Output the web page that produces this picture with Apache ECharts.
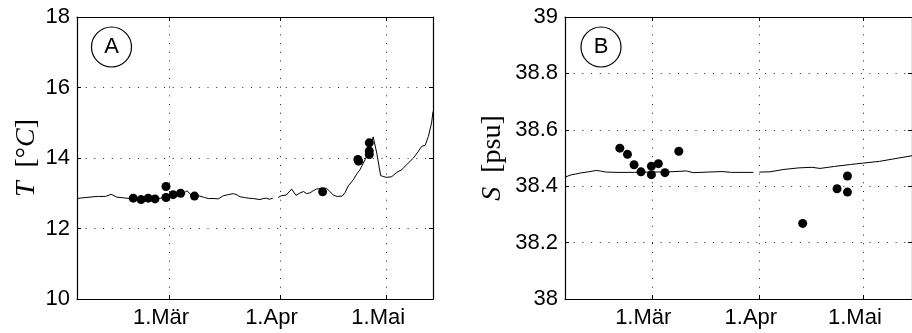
<!DOCTYPE html>
<html>
<head>
<meta charset="utf-8">
<script src="https://cdn.jsdelivr.net/npm/echarts@6/dist/echarts.min.js"></script>
<style>
  html, body { margin: 0; padding: 0; background: #fff; }
  #chart { width: 912px; height: 333px; }
</style>
</head>
<body>
<div id="chart"></div>
<script>
// Day of year (non-leap year): 1.Mär = 60, 1.Apr = 91, 1.Mai = 121
const monthTicks = [60, 91, 121];
const monthLabels = ['1.Mär', '1.Apr', '1.Mai'];

// Modelled temperature [°C]; null marks the gap in the record
const tempDays = [34, 35.5, 36.8, 38.5, 40, 42, 43.6, 45.2, 47, 49, 51, 53, 55, 57, 58.3, 60, 61.2, 63, 64.2, 64.9,
  66, 67.2, 68.5, 69.8, 70.9, 72.5, 73.7, 75.1, 76.5, 77.9, 79, 79.8, 81, 82.1, 83.5, 85.4, 86.3, 87.2, 88, 89,
  89.8,
  90.5, 91.4, 92.8, 94.3, 95.5, 96.5, 97.6, 98.5, 99.4, 100.5, 101.3, 103, 104.1, 105, 106, 107, 108.5, 109.3,
  110.2, 111.6, 112.6, 113.5, 114.9, 116.3, 117.2, 118.2, 119.3, 120.2, 121, 122.4, 123.8, 125.2, 126.6, 128.5,
  129.9, 130.8, 131.8, 132.7, 133.6, 134];
const tempModel = [12.85, 12.87, 12.88, 12.90, 12.91, 12.91, 12.97, 12.89, 12.87, 12.85, 12.84, 12.84, 12.84, 12.85,
  12.88, 12.92, 12.96, 13.00, 13.02, 13.07, 12.96, 12.95, 12.92, 12.88, 12.85, 12.85, 12.84, 12.93, 12.96, 12.99,
  12.95, 12.90, 12.88, 12.86, 12.85, 12.82, 12.85, 12.86, 12.83, 12.86,
  null,
  12.88, 12.93, 12.95, 13.12, 12.94, 13.00, 13.05, 12.99, 13.01, 13.08, 13.12, 13.14, 13.14, 13.05, 12.95, 12.91,
  12.92, 13.02, 13.21, 13.38, 13.55, 13.67, 13.95, 14.24, 14.60, 14.14, 13.50, 13.47, 13.45, 13.47, 13.59, 13.67,
  13.81, 14.00, 14.19, 14.33, 14.36, 14.61, 14.99, 15.32];

// Measured temperature [°C]
const tempObsDays = [49.8, 52, 54, 55.9, 59, 59, 61, 63.1, 67, 103, 112.9, 113.1, 116.1, 116.1, 116.1];
const tempObs = [12.86, 12.82, 12.86, 12.84, 13.19, 12.88, 12.96, 13.0, 12.92, 13.04, 13.96, 13.91, 14.43, 14.2, 14.1];

// Modelled salinity [psu]; null marks the gap in the record
const salDays = [35, 36.7, 38, 39.5, 41.8, 44.1, 45.5, 46.9, 50, 55, 60, 65, 70, 72, 76, 80.2, 83, 86, 89.3,
  90,
  91, 94.1, 97.8, 102.4, 106.2, 108.5, 112.6, 117.3, 121, 125.6, 131.2, 135];
const salModel = [38.432, 38.440, 38.443, 38.447, 38.451, 38.456, 38.453, 38.450, 38.449, 38.449, 38.450, 38.451,
  38.454, 38.448, 38.450, 38.452, 38.449, 38.449, 38.449,
  null,
  38.450, 38.451, 38.459, 38.465, 38.467, 38.463, 38.470, 38.477, 38.482, 38.488, 38.500, 38.508];

// Measured salinity [psu]
const salObsDays = [50.8, 53, 54.9, 56.9, 59.9, 59.9, 61.9, 63.8, 67.8, 103.5, 113.4, 116.4, 116.4];
const salObs = [38.535, 38.513, 38.476, 38.451, 38.471, 38.441, 38.480, 38.448, 38.524, 38.268, 38.391, 38.436, 38.379];

const pairs = (xs, ys) => xs.map((x, i) => [x, ys[i]]);

const sans = '"Liberation Sans", Arial, sans-serif';
const serif = '"Liberation Serif", "Times New Roman", serif';
const dotted = { color: '#222', width: 1, type: [1, 7.7] };

function bottomAxis(gridIndex, min, max) {
  return {
    gridIndex, type: 'value', min, max, position: 'bottom',
    axisLine: { show: true, onZero: false, lineStyle: { color: '#000', width: 1.2 } },
    axisTick: { show: true, inside: true, length: 4, customValues: monthTicks, lineStyle: { color: '#000' } },
    axisLabel: {
      customValues: monthTicks,
      formatter: v => monthLabels[monthTicks.indexOf(v)] || '',
      fontFamily: sans, fontSize: 22, color: '#000', margin: 8, padding: [0, 17, 0, 0]
    },
    splitLine: { show: true, lineStyle: dotted }
  };
}
function topAxis(gridIndex, min, max) {
  return {
    gridIndex, type: 'value', min, max, position: 'top',
    axisLine: { show: true, onZero: false, lineStyle: { color: '#000', width: 1.2 } },
    axisTick: { show: true, inside: true, length: 4, customValues: monthTicks, lineStyle: { color: '#000' } },
    axisLabel: { show: false },
    splitLine: { show: false }
  };
}
function leftAxis(gridIndex, min, max, interval, name, nameGap, fmt) {
  return {
    gridIndex, type: 'value', min, max, interval, position: 'left',
    name, nameLocation: 'middle', nameGap,
    nameTextStyle: {
      fontFamily: serif, fontSize: 28, color: '#000',
      rich: { i: { fontFamily: serif, fontSize: 28, fontStyle: 'italic', color: '#000' },
              n: { fontFamily: serif, fontSize: 28, color: '#000' } }
    },
    axisLine: { show: true, onZero: false, lineStyle: { color: '#000', width: 1.2 } },
    axisTick: { show: true, inside: true, length: 4, lineStyle: { color: '#000' } },
    axisLabel: { fontFamily: sans, fontSize: 22, color: '#000', margin: 7, formatter: fmt },
    splitLine: { show: true, lineStyle: dotted }
  };
}
function rightAxis(gridIndex, min, max, interval) {
  return {
    gridIndex, type: 'value', min, max, interval, position: 'right',
    axisLine: { show: true, onZero: false, lineStyle: { color: '#000', width: 1.2 } },
    axisTick: { show: true, inside: true, length: 4, lineStyle: { color: '#000' } },
    axisLabel: { show: false },
    splitLine: { show: false }
  };
}

const chart = echarts.init(document.getElementById('chart'), null, { renderer: 'canvas' });
chart.setOption({
  backgroundColor: '#fff',
  animation: false,
  grid: [
    { left: 77, top: 17, width: 356, height: 282 },
    { left: 565, top: 17, width: 360, height: 282 }
  ],
  xAxis: [
    bottomAxis(0, 34, 134), topAxis(0, 34, 134),
    bottomAxis(1, 35, 135), topAxis(1, 35, 135)
  ],
  yAxis: [
    leftAxis(0, 10, 18, 2, '{i|T}{n|  [°}{i|C}{n|]}', 36, v => String(v)),
    rightAxis(0, 10, 18, 2),
    leftAxis(1, 38, 39, 0.2, '{i|S}{n|  [psu]}', 58, v => String(Number(v.toFixed(1)))),
    rightAxis(1, 38, 39, 0.2)
  ],
  graphic: [
    { type: 'circle', shape: { cx: 111.5, cy: 47, r: 20 }, style: { fill: 'none', stroke: '#000', lineWidth: 1.2 } },
    { type: 'text', x: 111.5, y: 47, style: { text: 'A', font: '22px "Liberation Sans"', fill: '#000', align: 'center', verticalAlign: 'middle', textAlign: 'center', textVerticalAlign: 'middle' } },
    { type: 'circle', shape: { cx: 601, cy: 47, r: 20 }, style: { fill: 'none', stroke: '#000', lineWidth: 1.2 } },
    { type: 'text', x: 601, y: 47, style: { text: 'B', font: '22px "Liberation Sans"', fill: '#000', align: 'center', verticalAlign: 'middle', textAlign: 'center', textVerticalAlign: 'middle' } }
  ],
  series: [
    {
      type: 'line', xAxisIndex: 0, yAxisIndex: 0, data: pairs(tempDays, tempModel),
      showSymbol: false, symbol: 'none', connectNulls: false,
      lineStyle: { color: '#000', width: 1 }, z: 3
    },
    {
      type: 'scatter', xAxisIndex: 0, yAxisIndex: 0, data: pairs(tempObsDays, tempObs),
      symbol: 'circle', symbolSize: 9, itemStyle: { color: '#000', opacity: 1 }, z: 4
    },
    {
      type: 'line', xAxisIndex: 2, yAxisIndex: 2, data: pairs(salDays, salModel),
      showSymbol: false, symbol: 'none', connectNulls: false,
      lineStyle: { color: '#000', width: 1 }, z: 3
    },
    {
      type: 'scatter', xAxisIndex: 2, yAxisIndex: 2, data: pairs(salObsDays, salObs),
      symbol: 'circle', symbolSize: 9, itemStyle: { color: '#000', opacity: 1 }, z: 4
    }
  ]
});
</script>
</body>
</html>
